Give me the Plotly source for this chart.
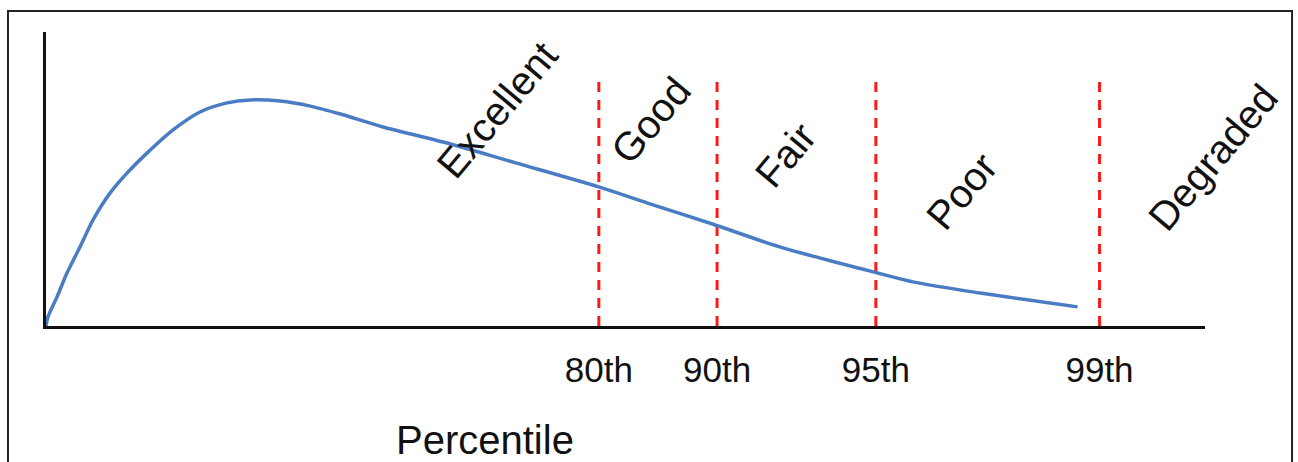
import plotly.graph_objects as go

# Response-time distribution curve (position along the percentile axis, relative frequency)
curve_x = [0, 0.17, 0.95, 1.81, 2.93, 4.06, 5.52, 6.99, 8.71, 10.96, 13.29, 15.62,
           17.6, 20.2, 22.8, 25.4, 29.1, 34.9, 40.6, 47.7, 51.9, 57.5, 63.3,
           70.8, 74.8, 80.6, 89.0]
curve_y = [0, 3.1, 9.9, 18.0, 26.9, 36.1, 45.2, 52.0, 58.8, 66.7, 72.8, 75.9,
           76.9, 76.5, 74.8, 72.1, 67.7, 61.9, 55.4, 47.3, 41.8, 34.7, 26.9,
           19.0, 15.0, 11.2, 6.5]

# Percentile cut-offs and where they sit on the axis
cutoff_labels = ["80th", "90th", "95th", "99th"]
cutoff_pos = [47.7, 57.9, 71.6, 90.9]
cutoff_top = 84.4

# Rating bands with label positions
band_names = ["Excellent", "Good", "Fair", "Poor", "Degraded"]
band_x = [38.9, 52.2, 63.8, 79.0, 100.7]
band_y = [73.5, 70.0, 58.2, 46.0, 57.5]

FONT = "Arial, Liberation Sans, sans-serif"

fig = go.Figure()

for xp in cutoff_pos:
    fig.add_trace(go.Scatter(
        x=[xp, xp], y=[0, cutoff_top], mode="lines",
        line=dict(color="#ff1a1a", width=3, dash="10px,8px"),
        hoverinfo="skip", showlegend=False))

fig.add_trace(go.Scatter(
    x=curve_x, y=curve_y, mode="lines",
    line=dict(color="#4a7cc4", width=3.5, shape="spline", smoothing=0.8),
    showlegend=False))

x_span = 100.0
for name, bx, by in zip(band_names, band_x, band_y):
    fig.add_annotation(x=bx / x_span, y=by / 100.0, xref="paper", yref="paper",
                       text=name, showarrow=False, textangle=-50,
                       xanchor="center", yanchor="middle",
                       font=dict(family=FONT, size=40, color="#111111"))

fig.add_annotation(x=0.379, y=-0.388, xref="paper", yref="paper",
                   text="Percentile", showarrow=False,
                   xanchor="center", yanchor="middle",
                   font=dict(family=FONT, size=40, color="#111111"))

# Frame around the figure
fig.add_shape(type="rect", xref="paper", yref="paper",
              x0=-0.0328, x1=1.0751, y0=-0.6, y1=1.0714,
              line=dict(color="#222222", width=2), layer="below")

fig.update_xaxes(range=[0, x_span], showline=True, linecolor="#111111", linewidth=3,
                 showgrid=False, zeroline=False,
                 tickvals=cutoff_pos, ticktext=cutoff_labels,
                 ticks="outside", ticklen=11, tickcolor="rgba(0,0,0,0)",
                 tickfont=dict(family=FONT, size=35, color="#111111"))
fig.update_yaxes(range=[0, 100], showline=True, linecolor="#111111", linewidth=3,
                 showgrid=False, zeroline=False, showticklabels=False, ticks="")

fig.update_layout(
    width=1298, height=462,
    margin=dict(l=46, r=93, t=32, b=136),
    plot_bgcolor="white", paper_bgcolor="white",
)

fig.write_html("out.html")
